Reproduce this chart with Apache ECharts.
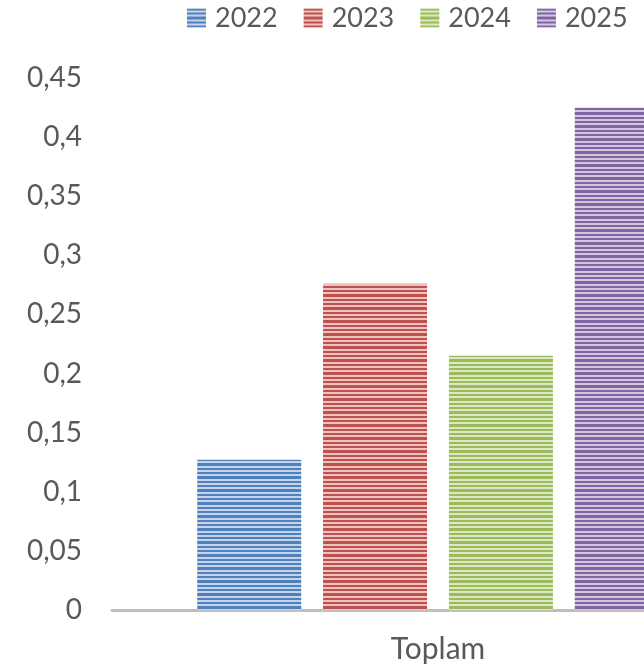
<!DOCTYPE html>
<html>
<head>
<meta charset="utf-8">
<script src="https://cdn.jsdelivr.net/npm/echarts@6/dist/echarts.min.js"></script>
<style>
html,body{margin:0;padding:0;background:#fff;}
#chart{width:644px;height:671px;}
</style>
</head>
<body>
<div id="chart"></div>
<script>
var categories = ['Toplam'];
var seriesNames = ['2022', '2023', '2024', '2025'];
var values2022 = [0.127];
var values2023 = [0.276];
var values2024 = [0.215];
var values2025 = [0.425];
var yTicks = [0, 0.05, 0.1, 0.15, 0.2, 0.25, 0.3, 0.35, 0.4, 0.45];

var darkColors = ['#4F81BD', '#C0504D', '#9BBB59', '#8064A2'];
var lightColors = ['#C5D4EA', '#EBC3C2', '#DCE8C5', '#D2C7E0'];

function stripe(dark, light) {
  var c = document.createElement('canvas');
  c.width = 4; c.height = 13;
  var ctx = c.getContext('2d');
  ctx.fillStyle = light; ctx.fillRect(0, 0, 4, 13);
  ctx.fillStyle = dark;
  [0, 1, 4, 5, 8, 9, 10].forEach(function (r) { ctx.fillRect(0, r, 4, 1); });
  return { image: c, repeat: 'repeat' };
}

var allValues = [values2022, values2023, values2024, values2025];
var series = seriesNames.map(function (n, i) {
  return {
    name: n,
    type: 'bar',
    data: allValues[i],
    barWidth: 104,
    barGap: '21%',
    itemStyle: { color: stripe(darkColors[i], lightColors[i]) }
  };
});

var chart = echarts.init(document.getElementById('chart'), null, { renderer: 'canvas' });
chart.setOption({
  animation: false,
  textStyle: { fontFamily: 'Lato' },
  legend: {
    data: seriesNames,
    icon: 'rect',
    left: 187,
    top: 3,
    padding: 0,
    itemWidth: 19,
    itemHeight: 19,
    itemGap: 26,
    textStyle: { fontFamily: 'Lato', fontSize: 27, color: '#595959', padding: [0, 0, 0, 4], lineHeight: 30 }
  },
  grid: { left: 112, top: 78, right: -120, bottom: 61, containLabel: false, outerBoundsMode: 'none' },
  xAxis: {
    type: 'category',
    data: categories,
    axisLine: { lineStyle: { color: '#BFBFBF', width: 3 } },
    axisTick: { show: false },
    axisLabel: { fontFamily: 'Lato', fontSize: 30, color: '#595959', margin: 24 }
  },
  yAxis: {
    type: 'value',
    min: yTicks[0],
    max: yTicks[yTicks.length - 1],
    interval: 0.05,
    splitLine: { show: false },
    axisLine: { show: false },
    axisTick: { show: false },
    axisLabel: {
      fontFamily: 'Lato', fontSize: 28, color: '#595959', margin: 30,
      formatter: function (v) { return String(+v.toFixed(2)).replace('.', ','); }
    }
  },
  series: series
});
</script>
</body>
</html>
